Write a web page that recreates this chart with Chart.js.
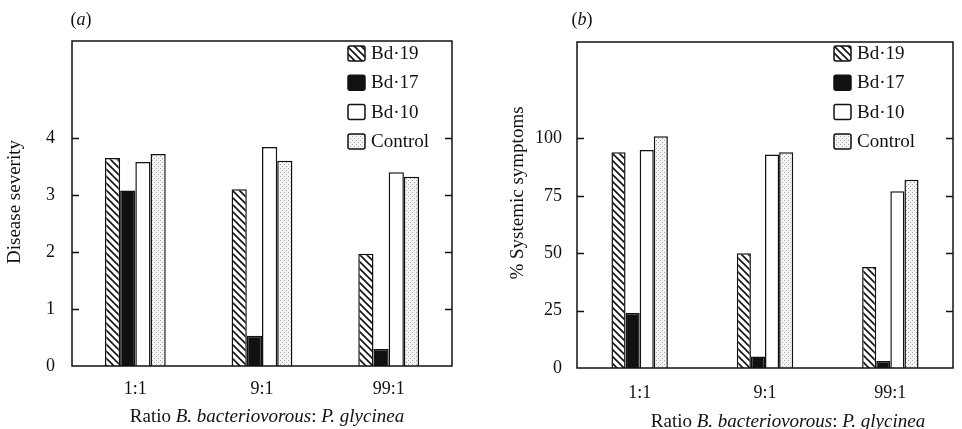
<!DOCTYPE html>
<html>
<head>
<meta charset="utf-8">
<script src="https://cdn.jsdelivr.net/npm/chart.js@4.4.1/dist/chart.umd.min.js"></script>
<style>
  html, body { margin: 0; padding: 0; background: #fff; }
  #wrap { position: relative; width: 962px; height: 429px; }
  #chart-a { position: absolute; left: 0; top: 0; }
  #chart-b { position: absolute; left: 480px; top: 0; }
</style>
</head>
<body>
<div id="wrap">
  <canvas id="chart-a" width="480" height="429"></canvas>
  <canvas id="chart-b" width="482" height="429"></canvas>
</div>
<script>
const categories = ['1:1', '9:1', '99:1'];
const seriesNames = ['Bd\u00b719', 'Bd\u00b717', 'Bd\u00b710', 'Control'];

// (a) disease severity
const severityBd19 = [3.65, 3.1, 1.97];
const severityBd17 = [3.08, 0.53, 0.3];
const severityBd10 = [3.58, 3.84, 3.4];
const severityControl = [3.72, 3.6, 3.32];
const severityTicks = [0, 1, 2, 3, 4];

// (b) % systemic symptoms
const symptomsBd19 = [94, 50, 44];
const symptomsBd17 = [24, 5, 3];
const symptomsBd10 = [95, 93, 77];
const symptomsControl = [101, 94, 82];
const symptomsTicks = [0, 25, 50, 75, 100];

const SERIF = "'Liberation Serif', 'DejaVu Serif', serif";

function makeHatch() {
    const c = document.createElement('canvas');
    c.width = 7; c.height = 7;
    const g = c.getContext('2d');
    g.fillStyle = '#fff';
    g.fillRect(0, 0, 7, 7);
    g.strokeStyle = '#111';
    g.lineWidth = 1.6;
    g.beginPath();
    g.moveTo(-1, -1); g.lineTo(8, 8);
    g.moveTo(-1, 6); g.lineTo(1, 8);
    g.moveTo(6, -1); g.lineTo(8, 1);
    g.stroke();
    return g.createPattern(c, 'repeat');
}

function makeStipple() {
    const c = document.createElement('canvas');
    c.width = 4; c.height = 4;
    const g = c.getContext('2d');
    g.fillStyle = '#f4f4f4';
    g.fillRect(0, 0, 4, 4);
    g.fillStyle = '#aaa';
    g.fillRect(0, 0, 1, 1);
    g.fillRect(2, 2, 1, 1);
    return g.createPattern(c, 'repeat');
}

const fills = [makeHatch(), '#111', '#fff', makeStipple()];

function drawMixed(ctx, parts, cx, cy, size) {
    let total = 0;
    parts.forEach(p => {
        ctx.font = `${p[1] ? 'italic ' : ''}${size}px ${SERIF}`;
        total += ctx.measureText(p[0]).width;
    });
    let x = cx - total / 2;
    ctx.textAlign = 'left';
    ctx.textBaseline = 'middle';
    parts.forEach(p => {
        ctx.font = `${p[1] ? 'italic ' : ''}${size}px ${SERIF}`;
        ctx.fillText(p[0], x, cy);
        x += ctx.measureText(p[0]).width;
    });
}

const panelPlugin = {
    id: 'panel',
    afterDraw(chart, args, opts) {
        const ctx = chart.ctx;
        const area = chart.chartArea;
        const y = chart.scales.y;
        ctx.save();
        ctx.strokeStyle = '#111';
        ctx.lineWidth = 1.5;
        ctx.strokeRect(area.left, area.top, area.right - area.left, area.bottom - area.top);
        // inward ticks on both sides
        ctx.beginPath();
        opts.ticks.forEach(v => {
            if (v === 0) return;
            const py = Math.round(y.getPixelForValue(v)) + 0.5;
            ctx.moveTo(area.left, py); ctx.lineTo(area.left + 7, py);
            ctx.moveTo(area.right, py); ctx.lineTo(area.right - 7, py);
        });
        ctx.stroke();

        ctx.fillStyle = '#111';
        drawMixed(ctx, [['(', false], [opts.letter, true], [')', false]], opts.letterX, 20, 18);
        drawMixed(ctx, [['Ratio ', false], ['B. bacteriovorous', true], [': ', false], ['P. glycinea', true]],
            opts.xTitleX, opts.xTitleY, 19);

        ctx.save();
        ctx.translate(opts.yTitleX, opts.yTitleY);
        ctx.rotate(-Math.PI / 2);
        ctx.font = `19px ${SERIF}`;
        ctx.textAlign = 'center';
        ctx.textBaseline = 'middle';
        ctx.fillText(opts.yTitle, 0, 0);
        ctx.restore();

        // legend inside the plot
        chart.data.datasets.forEach((ds, i) => {
            const ly = opts.legendY + i * 29.3;
            const bx = opts.legendX;
            ctx.beginPath();
            ctx.roundRect(bx, ly - 7, 17, 15, 2);
            ctx.fillStyle = ds.backgroundColor;
            ctx.fill();
            ctx.lineWidth = 1.5;
            ctx.strokeStyle = '#111';
            ctx.stroke();
            ctx.fillStyle = '#111';
            ctx.font = `19px ${SERIF}`;
            ctx.textAlign = 'left';
            ctx.textBaseline = 'middle';
            ctx.fillText(ds.label, bx + 23, ly + 1);
        });
        ctx.restore();
    }
};

function buildChart(id, values, ticks, yMax, top, bottom, right, yWidth, catPct, tickPadX, tickPadY, panel) {
    return new Chart(document.getElementById(id), {
        type: 'bar',
        data: {
            labels: categories,
            datasets: values.map((vals, i) => ({
                label: seriesNames[i],
                data: vals,
                backgroundColor: fills[i],
                borderColor: '#111',
                borderWidth: 1.5,
                categoryPercentage: catPct,
                barPercentage: 1
            }))
        },
        options: {
            responsive: false,
            animation: false,
            layout: { padding: { top, right, left: 0, bottom: 0 } },
            plugins: {
                legend: { display: false },
                tooltip: { enabled: false },
                panel
            },
            scales: {
                x: {
                    grid: { display: false },
                    border: { display: false },
                    ticks: { color: '#111', padding: tickPadX, font: { family: SERIF, size: 18 } },
                    afterFit: s => { s.height = 429 - bottom; }
                },
                y: {
                    min: 0,
                    max: yMax,
                    grid: { display: false },
                    border: { display: false },
                    afterBuildTicks: s => { s.ticks = ticks.map(v => ({ value: v })); },
                    afterFit: s => { s.width = yWidth; },
                    ticks: { color: '#111', padding: tickPadY, font: { family: SERIF, size: 18 } }
                }
            }
        },
        plugins: [panelPlugin]
    });
}

buildChart('chart-a',
    [severityBd19, severityBd17, severityBd10, severityControl],
    severityTicks, 5.7, 41, 366, 28, 72, 0.48, 4, 9,
    { ticks: severityTicks, letter: 'a', letterX: 81, xTitleX: 267, xTitleY: 417,
      yTitle: 'Disease severity', yTitleX: 15, yTitleY: 202, legendX: 348, legendY: 53 });

buildChart('chart-b',
    [symptomsBd19, symptomsBd17, symptomsBd10, symptomsControl],
    symptomsTicks, 142, 42, 368, 9, 97, 0.45, 6, 7,
    { ticks: symptomsTicks, letter: 'b', letterX: 102, xTitleX: 308, xTitleY: 422,
      yTitle: '% Systemic symptoms', yTitleX: 38, yTitleY: 193, legendX: 354, legendY: 53 });
</script>
</body>
</html>
